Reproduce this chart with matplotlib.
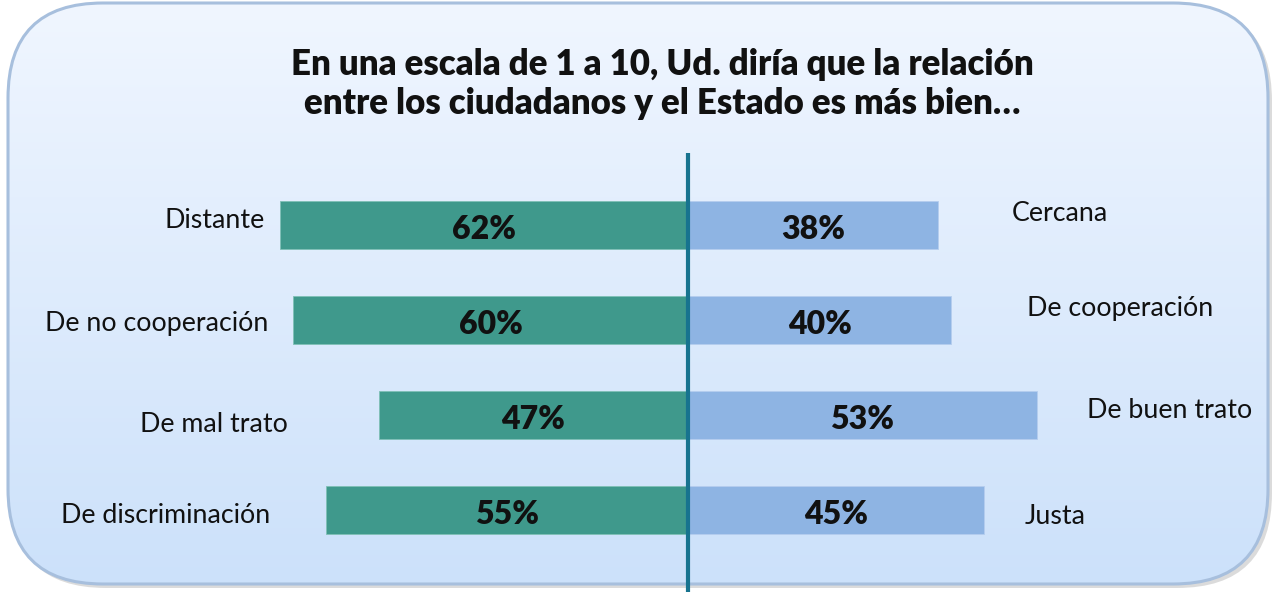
import numpy as np
import matplotlib.pyplot as plt
from matplotlib.patches import FancyBboxPatch

plt.rcParams['font.family'] = ['Lato', 'DejaVu Sans']

# data
left_labels = ['Distante', 'De no cooperación', 'De mal trato', 'De discriminación']
right_labels = ['Cercana', 'De cooperación', 'De buen trato', 'Justa']
left_vals = [62, 60, 47, 55]
right_vals = [38, 40, 53, 45]
title = 'En una escala de 1 a 10, Ud. diría que la relación\nentre los ciudadanos y el Estado es más bien…'

teal = '#3F998C'
light = '#8EB4E3'

W, H = 1278, 592
fig = plt.figure(figsize=(W / 100, H / 100), dpi=100)
fig.patch.set_facecolor('white')

# background rounded panel in pixel coords
bg = fig.add_axes([0, 0, 1, 1])
bg.set_xlim(0, W)
bg.set_ylim(H, 0)
bg.axis('off')
shadow = FancyBboxPatch((11, 6), 1261, 582, boxstyle='round,pad=0,rounding_size=95',
                        fc='#9a9a9a', ec='none', alpha=0.35, zorder=0)
bg.add_patch(shadow)
panel = FancyBboxPatch((8, 3), 1260, 581, boxstyle='round,pad=0,rounding_size=95',
                       fc='none', ec='#A7BFDD', lw=2.2, zorder=3)
bg.add_patch(panel)
grad = np.linspace(0, 1, 256).reshape(-1, 1)
c0 = np.array([0xF0, 0xF6, 0xFF]) / 255
c1 = np.array([0xCC, 0xE1, 0xFA]) / 255
img = c0 + (c1 - c0) * grad[..., None]
im = bg.imshow(img, extent=(8, 1268, 584, 3), aspect='auto', zorder=1)
im.set_clip_path(panel)

bg.text(662, 84, title, ha='center', va='center', fontsize=25, fontweight='heavy',
        color='#111111', linespacing=1.2, zorder=4)

# main bar axes: x in percent, center at pixel 688, 6.58 px per percent
ax = fig.add_axes([0, 0, 1, 1], facecolor='none')
ppp = 6.58
ax.set_xlim(-688 / ppp, (W - 688) / ppp)
ax.set_ylim((H - 225) / 95, -225 / 95)
ax.axis('off')

y = np.arange(len(left_vals))
ax.barh(y, [-v for v in left_vals], height=0.5, color=teal, edgecolor='#7fc0b6', lw=0.6, zorder=2)
ax.barh(y, right_vals, height=0.5, color=light, edgecolor='#b5cdee', lw=0.6, zorder=2)
ax.plot([0, 0], [-153 / 95 + 0.85, (H - 225) / 95], color='#17738F', lw=3, zorder=3,
        solid_capstyle='butt')

for i in range(len(y)):
    ax.text(-left_vals[i] / 2, i + 0.05, f'{left_vals[i]}%', ha='center', va='center',
            fontsize=23, fontweight='heavy', color='#111111', zorder=4)
    ax.text(right_vals[i] / 2, i + 0.05, f'{right_vals[i]}%', ha='center', va='center',
            fontsize=23, fontweight='heavy', color='#111111', zorder=4)

left_pos = [(-64.3, -0.05), (-63.8, 1.04), (-60.8, 2.1), (-63.5, 3.06)]
right_pos = [(49.2, -0.12), (51.5, 0.88), (60.6, 1.95), (51.2, 3.07)]
for i in range(len(y)):
    ax.text(left_pos[i][0], left_pos[i][1], left_labels[i], ha='right', va='center',
            fontsize=19.3, color='#111111')
    ax.text(right_pos[i][0], right_pos[i][1], right_labels[i], ha='left', va='center',
            fontsize=19.3, color='#111111')

fig.savefig('out.png', dpi=100)
